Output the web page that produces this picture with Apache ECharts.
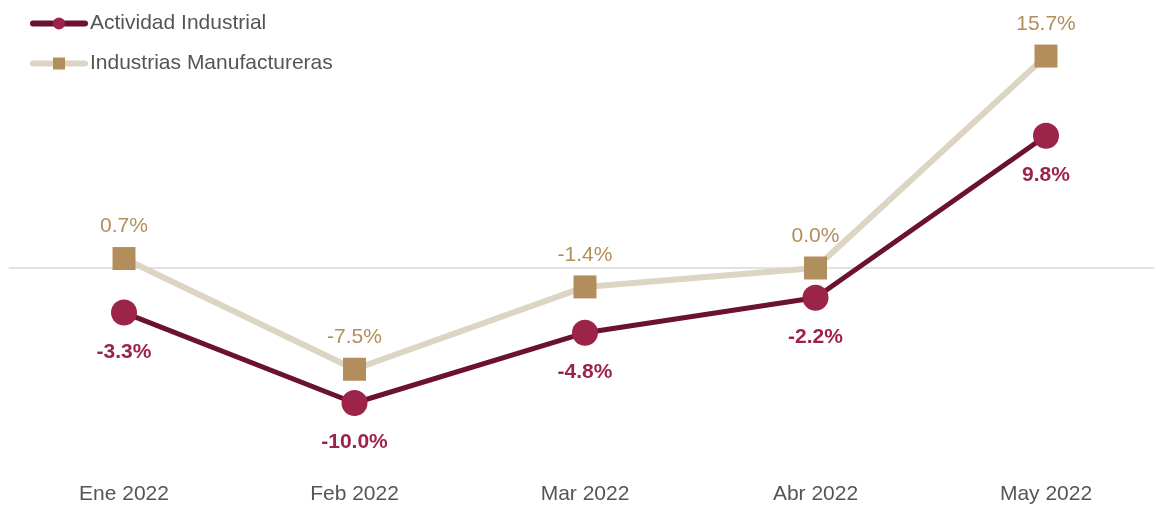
<!DOCTYPE html>
<html><head><meta charset="utf-8">
<script src="https://cdn.jsdelivr.net/npm/echarts@6/dist/echarts.min.js"></script>
<style>html,body{margin:0;padding:0;background:#fff}#c{width:1154px;height:506px}</style>
</head><body><div id="c"></div>
<script>
var categories = ['Ene 2022','Feb 2022','Mar 2022','Abr 2022','May 2022'];
var actividad = [-3.3, -10.0, -4.8, -2.2, 9.8];
var manufactureras = [0.7, -7.5, -1.4, 0.0, 15.7];
var seriesNames = ['Actividad Industrial','Industrias Manufactureras'];

var chart = echarts.init(document.getElementById('c'));
chart.setOption({
  animation:false,
  textStyle:{fontFamily:'Liberation Sans, Arial, sans-serif'},
  legend:{
    left:25, top:8, orient:'vertical', itemWidth:52, itemHeight:15, itemGap:19,
    textStyle:{fontSize:21, color:'#555'},
    lineStyle:{width:6, cap:'round'},
    data:seriesNames
  },
  grid:{left:8.75, width:1152.5, top:-2, bottom:35.5, outerBoundsMode:'none', containLabel:false},
  xAxis:{type:'category', data:categories, boundaryGap:true,
    axisLine:{show:false}, axisTick:{show:false},
    axisLabel:{fontSize:21, color:'#555', margin:13}},
  yAxis:{type:'value', min:-15, max:20, show:false, splitLine:{show:false}},
  series:[
    {name:seriesNames[1], type:'line', data:manufactureras, symbol:'rect', symbolSize:23,
     lineStyle:{color:'#ddd5c3', width:6}, itemStyle:{color:'#b38e5d'}, z:2,
     label:{show:true, position:'top', distance:10, fontSize:21, color:'#b38e5d',
       formatter:function(p){return p.value.toFixed(1)+'%';}},
     markLine:{silent:true, symbol:'none', label:{show:false},
       lineStyle:{color:'#d9d9d9', width:1.5, type:'solid'}, data:[{yAxis:0}], z:1}
    },
    {name:seriesNames[0], type:'line', data:actividad, symbol:'circle', symbolSize:26,
     lineStyle:{color:'#6b1131', width:5}, itemStyle:{color:'#9d2449'}, z:3,
     label:{show:true, position:'bottom', distance:16, fontSize:21, fontWeight:'bold', color:'#9d2449',
       formatter:function(p){return p.value.toFixed(1)+'%';}}
    }
  ]
});
</script></body></html>
